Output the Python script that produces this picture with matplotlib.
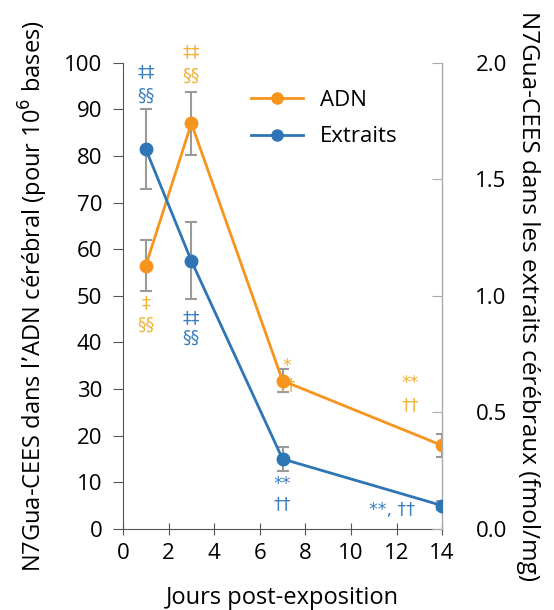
import numpy as np
import matplotlib.pyplot as plt
from matplotlib.lines import Line2D

plt.rcParams['font.family'] = ['Open Sans', 'DejaVu Sans']

jours = [1, 3, 7, 14]
adn = [56.5, 87.0, 31.8, 17.9]
adn_err = [5.5, 6.8, 2.4, 2.5]
extraits = [1.63, 1.15, 0.30, 0.10]
extraits_err = [0.17, 0.165, 0.05, 0.02]

orange = '#F7941D'
blue = '#2E75B6'
orange_txt = '#F2B233'
blue_txt = '#3A7FC1'
gris = '#9A9A9A'

fig = plt.figure(figsize=(5.54, 6.10), dpi=100)
ax = fig.add_axes([0.222, 0.133, 0.576, 0.764])
ax2 = ax.twinx()

ax.errorbar(jours, adn, yerr=adn_err, color=orange, ecolor=gris, elinewidth=1.5,
            capsize=4, capthick=1.5, lw=2, marker='o', ms=9, zorder=3)
ax2.errorbar(jours, extraits, yerr=extraits_err, color=blue, ecolor=gris, elinewidth=1.5,
             capsize=4, capthick=1.5, lw=2, marker='o', ms=9, zorder=3)

ax.set_xlim(0, 14)
ax.set_ylim(0, 100)
ax2.set_ylim(0, 2.0)
ax.set_xticks(range(0, 15, 2))
ax.set_yticks(range(0, 101, 10))
ax2.set_yticks([0, 0.5, 1.0, 1.5, 2.0])
ax2.set_yticklabels(['0.0', '0.5', '1.0', '1.5', '2.0'])

for a in (ax, ax2):
    a.spines['top'].set_visible(False)
ax.spines['left'].set_color('#555555')
ax.spines['bottom'].set_color('#555555')
ax2.spines['left'].set_visible(False)
ax2.spines['bottom'].set_visible(False)
ax2.spines['right'].set_color('#AAAAAA')
ax.tick_params(axis='y', direction='out', length=7, color='#555555', labelsize=16, pad=8)
ax.tick_params(axis='x', direction='inout', length=8, color='#555555', labelsize=16, pad=6)
ax2.tick_params(axis='y', direction='in', length=7, color='#AAAAAA', labelsize=16, pad=24)

ax.set_xlabel('Jours post-exposition', fontsize=17, labelpad=16)
ax.set_ylabel('N7Gua-CEES dans l’ADN cérébral (pour 10$^6$ bases)', fontsize=17, labelpad=10)
ax2.set_ylabel('N7Gua-CEES dans les extraits cérébraux (fmol/mg)', fontsize=17.5,
               rotation=270, labelpad=24)

# annotations de significativité
notes = [
    (1, 98.0, '‡‡', blue_txt), (1, 93.0, '§§', blue_txt),
    (3, 102.4, '‡‡', orange_txt), (3, 97.2, '§§', orange_txt),
    (1, 48.5, '‡', orange_txt), (1, 43.8, '§§', orange_txt),
    (3, 45.3, '‡‡', blue_txt), (3, 41.0, '§§', blue_txt),
    (7.2, 35.0, '*', orange_txt), (7.2, 30.9, '††', orange_txt),
    (7, 9.7, '**', blue_txt), (7, 5.2, '††', blue_txt),
    (12.6, 31.3, '**', orange_txt), (12.6, 26.6, '††', orange_txt),
    (11.8, 4.1, '**, ††', blue_txt),
]
for x, y, s, c in notes:
    ax.text(x, y, s, color=c, fontsize=12.5, ha='center', va='center',
            family=['DejaVu Sans'], clip_on=False)

handles = [Line2D([], [], color=orange, lw=2, marker='o', ms=8),
           Line2D([], [], color=blue, lw=2, marker='o', ms=8)]
ax.legend(handles, ['ADN', 'Extraits'], loc='upper left', bbox_to_anchor=(0.34, 0.985),
          frameon=False, fontsize=16, handlelength=2.3, labelspacing=0.7)

fig.savefig('out.png', dpi=100)
